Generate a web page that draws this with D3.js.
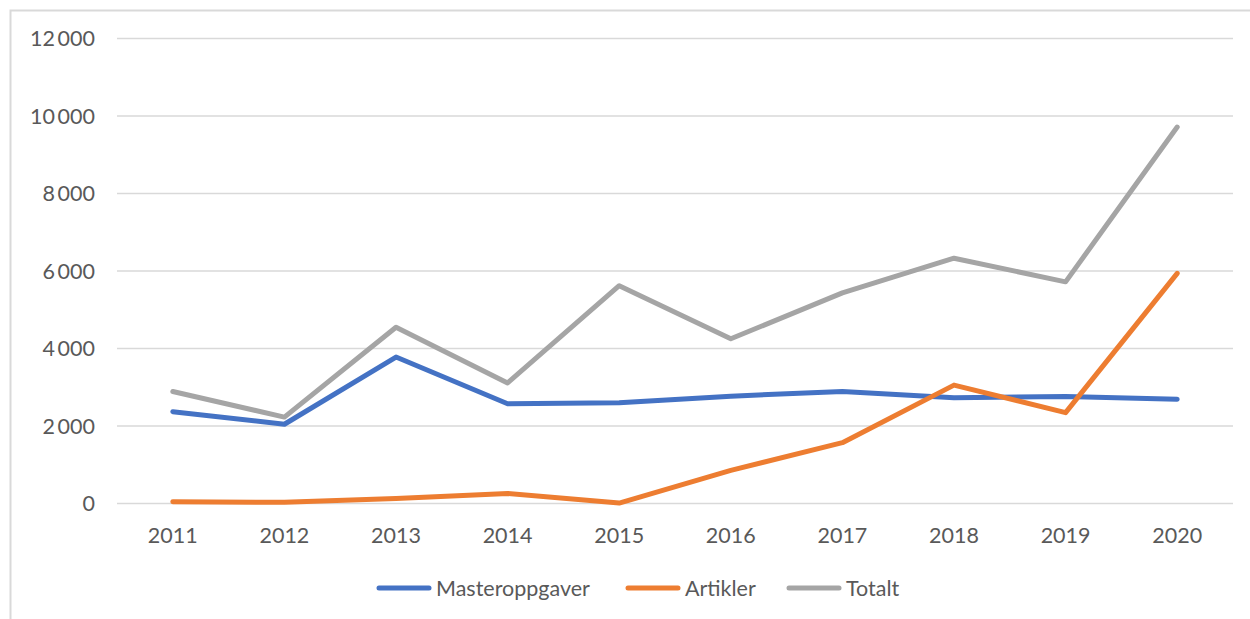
<!DOCTYPE html>
<html>
<head>
<meta charset="utf-8">
<script src="https://cdn.jsdelivr.net/npm/d3@7"></script>
<style>
  body { margin: 0; background: #fff; }
  svg { display: block; }
  text { font-family: Lato, "Open Sans", sans-serif; fill: #595959; }
</style>
</head>
<body>
<div id="chart"></div>
<script>
// data
const years = ['2011', '2012', '2013', '2014', '2015', '2016', '2017', '2018', '2019', '2020'];
const masteroppgaver = [2370, 2045, 3780, 2575, 2600, 2770, 2890, 2730, 2760, 2690];
const artikler = [45, 30, 130, 260, 10, 855, 1570, 3055, 2345, 5940];
const totalt = [2890, 2230, 4550, 3110, 5620, 4250, 5435, 6330, 5720, 9715];
const yTicks = [0, 2000, 4000, 6000, 8000, 10000, 12000];

const seriesNames = ['Masteroppgaver', 'Artikler', 'Totalt'];
const seriesColors = ['#4472C4', '#ED7D31', '#A5A5A5'];

const width = 1250;
const height = 619;
const plot = { left: 117, right: 1233, top: 38.5, bottom: 503.5 };

const svg = d3.select('#chart')
  .append('svg')
  .attr('width', width)
  .attr('height', height);

// chart frame (only top and left edges are visible in the reference)
svg.append('path')
  .attr('d', 'M 10.5 ' + height + ' V 10.5 H ' + width)
  .attr('fill', 'none')
  .attr('stroke', '#d9d9d9')
  .attr('stroke-width', 2);

const x = d3.scaleBand().domain(years).range([plot.left, plot.right]);
const y = d3.scaleLinear().domain([0, 12000]).range([plot.bottom, plot.top]);
const cx = d => x(d) + x.bandwidth() / 2;

const fmt = d3.formatLocale({ decimal: ',', thousands: '\u2009', grouping: [3], currency: ['', ''] }).format(',d');

// horizontal gridlines
svg.append('g')
  .selectAll('line')
  .data(yTicks)
  .join('line')
  .attr('x1', plot.left)
  .attr('x2', plot.right)
  .attr('y1', d => y(d))
  .attr('y2', d => y(d))
  .attr('stroke', '#d9d9d9')
  .attr('stroke-width', 1.5);

// y tick labels
svg.append('g')
  .selectAll('text')
  .data(yTicks)
  .join('text')
  .attr('x', 95)
  .attr('y', d => y(d))
  .attr('dy', '0.35em')
  .attr('text-anchor', 'end')
  .attr('font-size', 21.5)
  .text(d => fmt(d));

// x tick labels
svg.append('g')
  .selectAll('text')
  .data(years)
  .join('text')
  .attr('x', d => cx(d))
  .attr('y', 535)
  .attr('dy', '0.35em')
  .attr('text-anchor', 'middle')
  .attr('font-size', 21.5)
  .text(d => d);

// lines
const series = [masteroppgaver, artikler, totalt];
const line = d3.line()
  .x((d, i) => cx(years[i]))
  .y(d => y(d));

svg.append('g')
  .selectAll('path')
  .data(series)
  .join('path')
  .attr('d', d => line(d))
  .attr('fill', 'none')
  .attr('stroke', (d, i) => seriesColors[i])
  .attr('stroke-width', 5)
  .attr('stroke-linejoin', 'round')
  .attr('stroke-linecap', 'round');

// legend
const legendX = [379, 628, 789];
const legend = svg.append('g')
  .selectAll('g')
  .data(seriesNames)
  .join('g')
  .attr('transform', (d, i) => 'translate(' + legendX[i] + ',588)');
legend.append('line')
  .attr('x1', 0)
  .attr('x2', 50)
  .attr('stroke', (d, i) => seriesColors[i])
  .attr('stroke-width', 5)
  .attr('stroke-linecap', 'round');
legend.append('text')
  .attr('x', 57)
  .attr('dy', '0.35em')
  .attr('font-size', 21.5)
  .text(d => d);
</script>
</body>
</html>
